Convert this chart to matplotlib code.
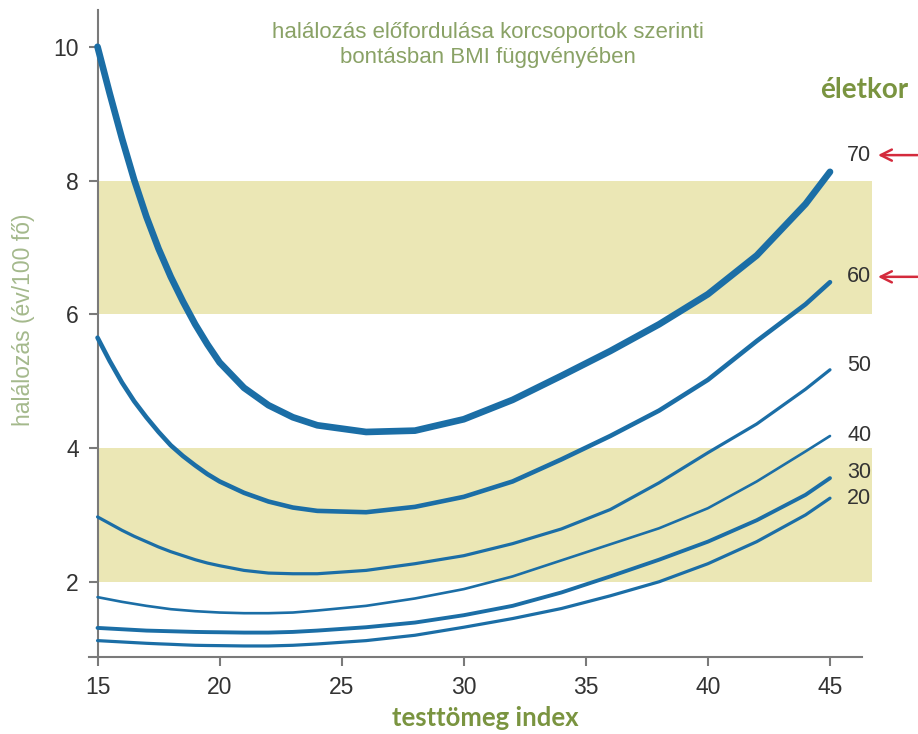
import matplotlib
matplotlib.use("Agg")
from matplotlib import pyplot as plt

bmi = [15, 15.5, 16, 16.5, 17, 17.5, 18, 18.5, 19, 19.5, 20, 21, 22, 23, 24, 26, 28, 30, 32, 34, 36, 38, 40, 42, 44, 45]

# deaths / 100 persons / year, by age group
age70 = [10.0, 9.30, 8.63, 8.01, 7.46, 6.98, 6.56, 6.19, 5.85, 5.55, 5.28, 4.90, 4.64, 4.46, 4.34, 4.24, 4.26, 4.43, 4.72, 5.08, 5.45, 5.85, 6.30, 6.88, 7.65, 8.13]
age60 = [5.65, 5.30, 4.98, 4.70, 4.46, 4.24, 4.04, 3.88, 3.74, 3.61, 3.50, 3.33, 3.20, 3.11, 3.06, 3.04, 3.12, 3.27, 3.50, 3.83, 4.18, 4.56, 5.02, 5.60, 6.15, 6.48]
age50 = [2.97, 2.87, 2.77, 2.68, 2.60, 2.52, 2.45, 2.39, 2.33, 2.28, 2.24, 2.17, 2.13, 2.12, 2.12, 2.17, 2.27, 2.39, 2.57, 2.79, 3.08, 3.48, 3.93, 4.36, 4.88, 5.17]
age40 = [1.77, 1.735, 1.70, 1.67, 1.64, 1.615, 1.59, 1.575, 1.56, 1.55, 1.54, 1.53, 1.53, 1.54, 1.57, 1.64, 1.75, 1.89, 2.08, 2.32, 2.56, 2.80, 3.10, 3.50, 3.95, 4.18]
age30 = [1.31, 1.30, 1.29, 1.28, 1.27, 1.265, 1.26, 1.255, 1.25, 1.247, 1.245, 1.24, 1.24, 1.25, 1.27, 1.32, 1.39, 1.50, 1.64, 1.84, 2.08, 2.33, 2.60, 2.92, 3.30, 3.55]
age20 = [1.12, 1.11, 1.10, 1.09, 1.08, 1.072, 1.065, 1.057, 1.05, 1.047, 1.045, 1.04, 1.04, 1.05, 1.07, 1.12, 1.20, 1.32, 1.45, 1.60, 1.79, 2.00, 2.27, 2.60, 3.00, 3.25]

ages = ["70", "60", "50", "40", "30", "20"]
series = [age70, age60, age50, age40, age30, age20]
widths = [4.8, 3.3, 2.3, 1.9, 2.8, 2.3]
label_y = [8.38, 6.56, 5.24, 4.18, 3.63, 3.25]
marked = ["70", "60"]   # red arrows

bands = [(2, 4), (6, 8)]

blue = "#1b6ea6"
band_col = "#ebe7b5"
axis_col = "#7a7a7a"
tick_col = "#333333"
green = "#7a9440"
title_col = "#8aa266"
ylab_col = "#a4b98c"

fig = plt.figure(figsize=(9.18, 7.34), dpi=100)
ax = fig.add_axes([88.5 / 918, 77 / 734, 783 / 918, 647 / 734])
ax.set_xlim(14.63, 46.7)
ax.set_ylim(0.875, 10.55)

for lo, hi in bands:
    ax.fill_between([15, 46.7], lo, hi, color=band_col, lw=0, zorder=0)

for name, vals, lw in zip(ages, series, widths):
    ax.plot(bmi, vals, color=blue, lw=lw, solid_capstyle="round",
            solid_joinstyle="round", zorder=3)

for name, ly in zip(ages, label_y):
    ax.text(45.7, ly, name, fontsize=15.5, color=tick_col, va="center", ha="left",
            family="Liberation Sans", clip_on=False)
    if name in marked:
        ax.annotate("", xy=(46.85, ly), xytext=(48.7, ly),
                    arrowprops=dict(arrowstyle="->", color="#d42a3c", lw=1.8,
                                    mutation_scale=20),
                    annotation_clip=False)

for s in ["top", "right"]:
    ax.spines[s].set_visible(False)
ax.spines["left"].set_position(("data", 15))
ax.spines["left"].set_bounds(0.875, 10.55)
ax.spines["bottom"].set_bounds(14.63, 46.3)
for s in ["left", "bottom"]:
    ax.spines[s].set_color(axis_col)
    ax.spines[s].set_linewidth(1.5)

ax.set_xticks([15, 20, 25, 30, 35, 40, 45])
ax.set_yticks([2, 4, 6, 8, 10])
ax.tick_params(axis="both", direction="out", length=6.5, width=1.5, color=axis_col,
               labelcolor=tick_col, labelsize=16.5, pad=7)
for lab in ax.get_xticklabels() + ax.get_yticklabels():
    lab.set_family("Liberation Sans")

fig.text(488 / 918, 1 - 45 / 734, "halálozás előfordulása korcsoportok szerinti\nbontásban BMI függvényében",
         ha="center", va="center", fontsize=16, color=title_col, family="Liberation Sans",
         linespacing=1.2)
fig.text(864 / 918, 1 - 90 / 734, "életkor", ha="center", va="center", fontsize=20,
         color=green, family="Lato", weight="bold")
fig.text(485 / 918, 1 - 718 / 734, "testtömeg index", ha="center", va="center", fontsize=18.5,
         color=green, family="Lato", weight="bold")
fig.text(24 / 918, 1 - 320 / 734, "halálozás (év/100 fő)", ha="center", va="center",
         rotation=90, fontsize=16.5, color=ylab_col, family="Liberation Sans")

fig.savefig("out.png", dpi=100)
